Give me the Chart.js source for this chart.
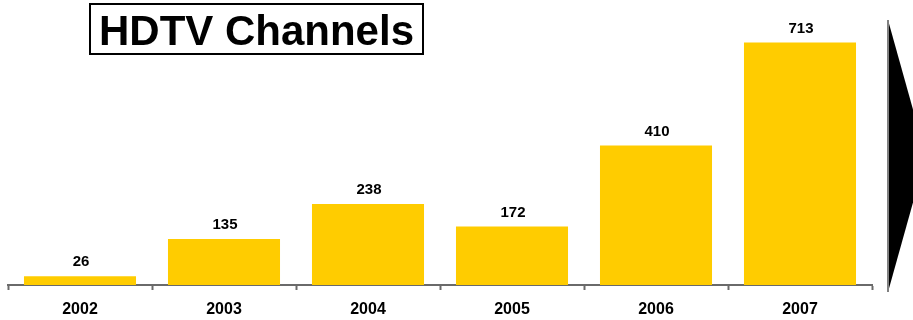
<!DOCTYPE html>
<html>
<head>
<meta charset="utf-8">
<script src="https://cdn.jsdelivr.net/npm/chart.js@4"></script>
<style>
  html, body { margin: 0; padding: 0; background: #fff; }
  #wrap { position: relative; width: 913px; height: 320px; overflow: hidden; }
  #title {
    position: absolute; left: 89px; top: 3px; width: 331px; height: 48px;
    border: 2px solid #000; box-sizing: content-box;
    font: bold 42px "Liberation Sans", Arial, sans-serif; color: #000;
    line-height: 52px; text-align: center; white-space: nowrap;
  }
</style>
</head>
<body>
<div id="wrap">
  <canvas id="c" width="913" height="320"></canvas>
  <div id="title">HDTV Channels</div>
</div>
<script>
const categories = ['2002', '2003', '2004', '2005', '2006', '2007'];
const channels = [26, 135, 238, 172, 410, 713];

const valueLabels = {
  id: 'valueLabels',
  afterDatasetsDraw(chart) {
    const ctx = chart.ctx;
    const meta = chart.getDatasetMeta(0);
    ctx.save();
    ctx.font = 'bold 15px "Liberation Sans", Arial, sans-serif';
    ctx.fillStyle = '#000';
    ctx.textAlign = 'center';
    ctx.textBaseline = 'alphabetic';
    meta.data.forEach((bar, i) => {
      ctx.fillText(String(chart.data.datasets[0].data[i]), bar.x + 1, bar.y - 10);
    });
    ctx.restore();
  }
};

const arrow = {
  id: 'arrow',
  afterDraw(chart) {
    const ctx = chart.ctx;
    const x0 = chart.chartArea.right + 16;
    const top = 20, bottom = 292;
    const mid = (top + bottom) / 2;
    ctx.save();
    ctx.beginPath();
    ctx.moveTo(x0, top);
    ctx.lineTo(x0 + 38, mid);
    ctx.lineTo(x0, bottom);
    ctx.closePath();
    ctx.fillStyle = '#000';
    ctx.fill();
    ctx.beginPath();
    ctx.moveTo(x0, top);
    ctx.lineTo(x0, bottom);
    ctx.strokeStyle = '#808080';
    ctx.lineWidth = 2;
    ctx.stroke();
    ctx.restore();
  }
};

new Chart(document.getElementById('c'), {
  type: 'bar',
  data: {
    labels: categories,
    datasets: [{
      data: channels,
      backgroundColor: '#FFCC00',
      borderWidth: 0,
      barPercentage: 0.778,
      categoryPercentage: 1.0
    }]
  },
  options: {
    responsive: false,
    animation: false,
    layout: { padding: { left: 8, right: 41, top: 13, bottom: 0 } },
    plugins: { legend: { display: false }, tooltip: { enabled: false }, title: { display: false } },
    scales: {
      y: {
        display: false,
        min: 0,
        max: 800
      },
      x: {
        afterFit(scale) { scale.height = 35; },
        grid: {
          display: true,
          drawOnChartArea: false,
          drawTicks: true,
          tickLength: 5,
          tickWidth: 2,
          color: '#6a6a6a',
          offset: true
        },
        border: { display: true, color: '#6a6a6a', width: 2 },
        ticks: {
          color: '#000',
          padding: 10,
          font: { family: '"Liberation Sans", Arial, sans-serif', size: 16, weight: 'bold' }
        }
      }
    }
  },
  plugins: [valueLabels, arrow]
});
</script>
</body>
</html>
